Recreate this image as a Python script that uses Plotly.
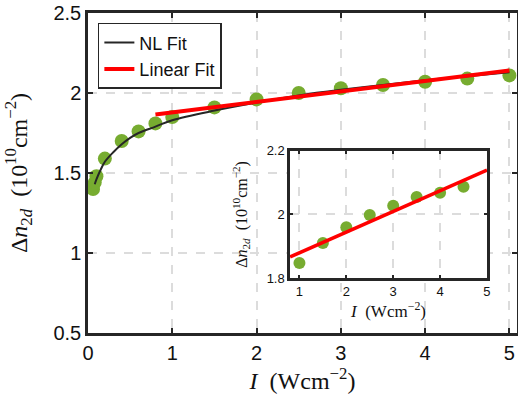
import plotly.graph_objects as go

# Data
I_data = [0.06, 0.08, 0.1, 0.2, 0.4, 0.6, 0.8, 1.0, 1.5, 2.0, 2.5, 3.0, 3.5, 4.0, 4.5, 5.0]
n_data = [1.40, 1.44, 1.48, 1.59, 1.70, 1.76, 1.81, 1.85, 1.91, 1.96, 2.00, 2.03, 2.05, 2.07, 2.09, 2.11]

I_nl = [0.08, 0.1, 0.15, 0.2, 0.3, 0.4, 0.5, 0.6, 0.8, 1.0, 1.5, 2.0, 2.5, 3.0, 3.5, 4.0, 4.5, 5.0]
n_nl = [1.43, 1.46, 1.52, 1.57, 1.63, 1.68, 1.72, 1.75, 1.79, 1.83, 1.89, 1.94, 1.985, 2.02, 2.05, 2.08, 2.105, 2.13]

I_lin = [0.8, 5.0]
n_lin = [1.866, 2.14]

I_inset = [1.0, 1.5, 2.0, 2.5, 3.0, 3.5, 4.0, 4.5]
n_inset = [1.847, 1.91, 1.96, 1.998, 2.027, 2.055, 2.068, 2.087]

x_ticks = [0, 1, 2, 3, 4, 5]
y_ticks = [0.5, 1, 1.5, 2, 2.5]
xi_ticks = [1, 2, 3, 4, 5]
yi_ticks = [1.8, 2, 2.2]

GREEN = "#77AC30"
AX = "#262626"
GRID = "#dcdcdc"
SANS = "Liberation Sans, Arial, sans-serif"
SERIF = "Liberation Serif, DejaVu Serif, serif"

fig = go.Figure()

fig.add_trace(go.Scatter(x=I_data, y=n_data, mode="markers",
                         marker=dict(size=14, color=GREEN), showlegend=False,
                         xaxis="x", yaxis="y"))
fig.add_trace(go.Scatter(x=I_nl, y=n_nl, mode="lines", name="NL Fit",
                         line=dict(color=AX, width=2, shape="spline"),
                         xaxis="x", yaxis="y"))
fig.add_trace(go.Scatter(x=I_lin, y=n_lin, mode="lines", name="Linear Fit",
                         line=dict(color="#ff0000", width=4),
                         xaxis="x", yaxis="y"))

# inset
fig.add_trace(go.Scatter(x=I_inset, y=n_inset, mode="markers",
                         marker=dict(size=12, color=GREEN), showlegend=False,
                         xaxis="x2", yaxis="y2", cliponaxis=False))
fig.add_trace(go.Scatter(x=I_lin, y=n_lin, mode="lines", showlegend=False,
                         line=dict(color="#ff0000", width=3.5),
                         xaxis="x2", yaxis="y2"))

# white background for inset
fig.add_shape(type="rect", xref="x2", yref="y2", x0=0.8, x1=5.0, y0=1.8, y1=2.2,
              fillcolor="white", line=dict(width=0), layer="below")

common = dict(showline=True, mirror="ticks", linecolor=AX, linewidth=2.5,
              ticks="inside", tickcolor=AX, tickwidth=2,
              showgrid=True, gridcolor=GRID, griddash="dash", gridwidth=1.5,
              zeroline=False, automargin=False, ticklabeloverflow="allow")

fig.update_layout(
    width=518, height=402,
    margin=dict(l=88, r=1, t=13, b=69),
    paper_bgcolor="white", plot_bgcolor="white",
    xaxis=dict(range=[0, 5.09], tickvals=x_ticks, ticklen=5,
               tickfont=dict(family=SANS, size=20, color="#111"),
               title=dict(text="<i>I</i>  (Wcm<sup>−2</sup>)",
                          font=dict(family=SERIF, size=24, color="#111"), standoff=2),
               domain=[0, 1], **common),
    yaxis=dict(range=[0.5, 2.5], tickvals=y_ticks, ticklen=5,
               tickfont=dict(family=SANS, size=20, color="#111"),
               title=dict(text="Δ<i>n</i><sub>2<i>d</i></sub>  (10<sup>10</sup>cm<sup>−2</sup>)",
                          font=dict(family=SERIF, size=24, color="#111"), standoff=20),
               domain=[0, 1], **common),
    xaxis2=dict(range=[0.8, 5.0], tickvals=xi_ticks, ticklen=3,
                tickfont=dict(family=SANS, size=13, color="#111"),
                title=dict(text="<i>I</i>  (Wcm<sup>−2</sup>)",
                           font=dict(family=SERIF, size=17, color="#111"), standoff=5),
                domain=[0.471, 0.930], anchor="y2", **common),
    yaxis2=dict(range=[1.8, 2.2], tickvals=yi_ticks, ticklen=3,
                tickfont=dict(family=SANS, size=13, color="#111"),
                title=dict(text="Δ<i>n</i><sub>2<i>d</i></sub>  (10<sup>10</sup>cm<sup>−2</sup>)",
                           font=dict(family=SERIF, size=16, color="#111"), standoff=16),
                domain=[0.172, 0.569], anchor="x2", **common),
    legend=dict(x=0.023, y=0.969, xanchor="left", yanchor="top",
                bgcolor="white", bordercolor=AX, borderwidth=1.5,
                font=dict(family=SANS, size=18, color="#111"),
                tracegroupgap=0),
)

fig.write_html("out.html", config={"displayModeBar": False},
               post_script="document.body.style.margin='0';document.body.style.overflow='hidden';")
